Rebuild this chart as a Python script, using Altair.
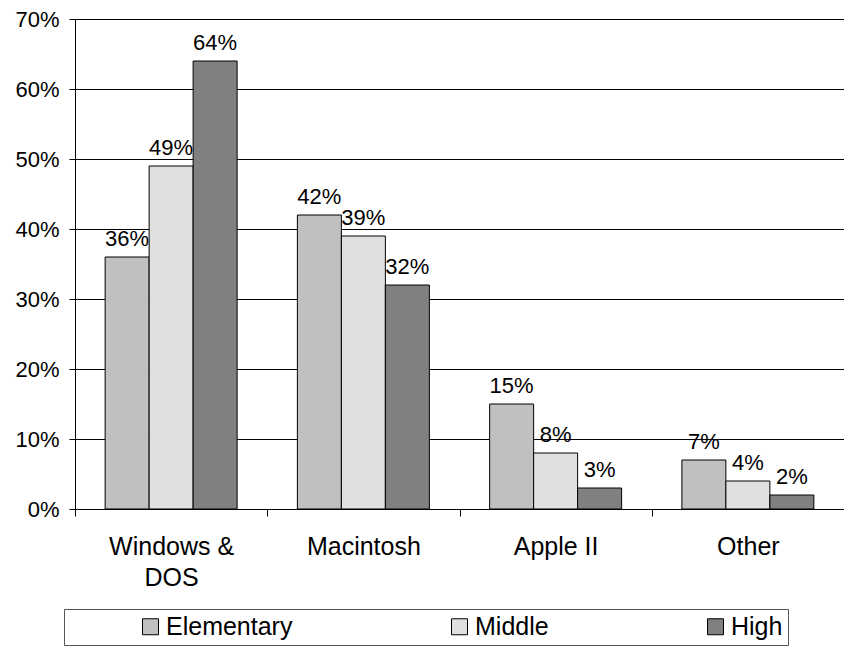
import altair as alt
import pandas as pd

categories = ["Windows & DOS", "Macintosh", "Apple II", "Other"]
levels = ["Elementary", "Middle", "High"]
elementary = [36, 42, 15, 7]
middle = [49, 39, 8, 4]
high = [64, 32, 3, 2]
colors = ["#c0c0c0", "#e0e0e0", "#808080"]
y_ticks = [0, 10, 20, 30, 40, 50, 60, 70]

rows = []
for i, c in enumerate(categories):
    for lvl, vals in zip(levels, [elementary, middle, high]):
        rows.append({"platform": c, "level": lvl, "pct": vals[i]})
df = pd.DataFrame(rows)

FONT = "Liberation Sans"
W, H = 769, 490

x = alt.X(
    "platform:N", sort=categories, title=None,
    scale=alt.Scale(paddingInner=0, paddingOuter=0),
    axis=alt.Axis(
        labelAngle=0, labelFontSize=25, labelFont=FONT, labelColor="black",
        labelExpr="datum.value == 'Windows & DOS' ? ['Windows &', 'DOS'] : datum.value",
        labelLineHeight=31, labelPadding=18, tickSize=7, tickColor="black",
        tickBand="extent", domainColor="black", grid=False, labelBaseline="top",
    ),
)
xo = alt.XOffset("level:N", sort=levels,
                 scale=alt.Scale(paddingInner=0, paddingOuter=0.685))
y = alt.Y(
    "pct:Q", title=None,
    scale=alt.Scale(domain=[0, 70], nice=False),
    axis=alt.Axis(
        values=y_ticks, labelExpr="datum.value + '%'", labelFontSize=22,
        labelFont=FONT, labelColor="black", labelPadding=10, tickSize=6,
        tickColor="black", domainColor="black", gridColor="black",
        gridOpacity=1, grid=True,
    ),
)

color = alt.Color(
    "level:N", sort=levels,
    scale=alt.Scale(domain=levels, range=colors),
    legend=alt.Legend(
        title=None, orient="none", legendX=-11, legendY=590,
        direction="horizontal", columns=3, symbolType="square",
        symbolSize=256, symbolStrokeColor="black", symbolStrokeWidth=1,
        labelFontSize=25, labelFont=FONT, labelColor="black",
        strokeColor="#555555", padding=5, symbolOffset=69, labelOffset=3,
        columnPadding=85,
    ),
)

bars = alt.Chart(df).mark_bar(stroke="black", strokeWidth=1).encode(
    x=x, xOffset=xo, y=y, color=color
)

labels = alt.Chart(df).transform_calculate(
    label="datum.pct + '%'"
).mark_text(
    dy=-11, baseline="alphabetic", fontSize=22, font=FONT, color="black"
).encode(x=x, xOffset=xo, y=y, text="label:N")

chart = alt.layer(bars, labels).properties(
    width=W, height=H,
    autosize=alt.AutoSizeParams(type="none"),
    padding={"left": 67, "top": 11, "right": 0, "bottom": 137},
).configure_view(stroke=None).configure(background="white")

chart.save("out.html", embed_options={"renderer": "svg", "actions": False})
